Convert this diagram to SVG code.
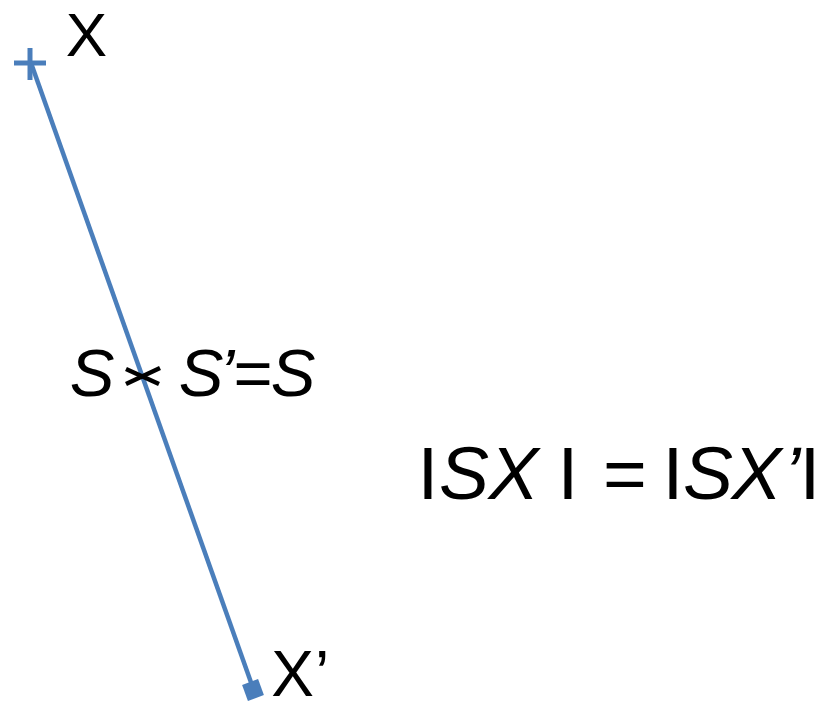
<svg xmlns="http://www.w3.org/2000/svg" width="821" height="702" viewBox="0 0 821 702">
<style>
  .t { font-family: "Liberation Sans", Arial, sans-serif; fill: #000; }
  .i { font-style: italic; }
  .blue { stroke: #4a7ebb; fill: none; }
</style>
<rect width="821" height="702" fill="#fff"/>
<g id="connectors">
  <line class="blue" x1="31" y1="63" x2="253" y2="688" stroke-width="4.5"/>
</g>
<g id="pointX">
  <line class="blue" x1="14" y1="63" x2="46" y2="63" stroke-width="5"/>
  <line class="blue" x1="30" y1="48" x2="30" y2="80" stroke-width="5"/>
  <text class="t" x="86.5" y="56" font-size="62" text-anchor="middle">X</text>
</g>
<g id="pointS">
  <line x1="126" y1="369" x2="159" y2="384" stroke="#000" stroke-width="4.5"/>
  <line x1="126" y1="384" x2="160" y2="368" stroke="#000" stroke-width="4.5"/>
  <text class="t i" x="92" y="396" font-size="67" text-anchor="middle">S</text>
  <text class="t" y="396" font-size="67" text-anchor="middle"><tspan class="i" x="201">S</tspan><tspan class="i" x="227">’</tspan><tspan x="253">=</tspan><tspan class="i" x="293">S</tspan></text>
</g>
<g id="pointXprime">
  <rect x="-8.5" y="-8.5" width="17" height="17" fill="#4a7ebb" transform="translate(253 690) rotate(-20)"/>
  <text class="t" y="696" font-size="64" text-anchor="middle"><tspan x="292.5">X</tspan><tspan x="322">’</tspan></text>
</g>
<g id="formula">
  <text class="t" y="499" font-size="75" text-anchor="middle"><tspan x="428">I</tspan><tspan class="i" x="464">S</tspan><tspan class="i" x="513.5">X</tspan><tspan x="568">I</tspan><tspan x="625">=</tspan><tspan x="673">I</tspan><tspan class="i" x="708">S</tspan><tspan class="i" x="756.5">X</tspan><tspan class="i" x="792">’</tspan><tspan x="810">I</tspan></text>
</g>
</svg>
